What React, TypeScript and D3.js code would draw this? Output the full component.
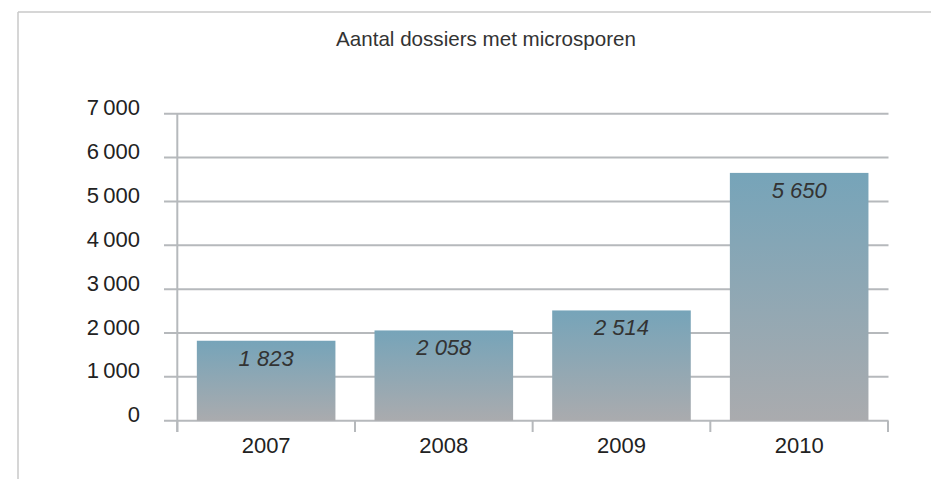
import React from "react";
import * as d3 from "d3";

const title = "Aantal dossiers met microsporen";
const years = ["2007", "2008", "2009", "2010"];
const values = [1823, 2058, 2514, 5650];
const yTicks = [0, 1000, 2000, 3000, 4000, 5000, 6000, 7000];

const W = 931;
const H = 479;

const tickFmt = d3.formatLocale({ decimal: ",", thousands: "\u2009", grouping: [3], currency: ["€", ""] }).format(",d");
const valFmt = d3.formatLocale({ decimal: ",", thousands: " ", grouping: [3], currency: ["€", ""] }).format(",d");

export default function App() {
  const x = d3.scaleBand<string>().domain(years).range([177.3, 888]).paddingInner(0.22).paddingOuter(0.11);
  const y = d3.scaleLinear().domain([0, 7000]).range([420.7, 113.7]);
  const step = x.step();
  const x0 = 177.3;
  const boundaries = d3.range(years.length + 1).map((i) => x0 + i * step);
  const font = "'Liberation Sans', Arial, sans-serif";
  const grid = "#b6b9bc";

  return (
    <svg width={W} height={H} style={{ position: "absolute", left: 0, top: 0, background: "#fff" }} fontFamily={font}>
      <defs>
        <linearGradient id="barGrad" x1="0" y1="0" x2="0" y2="1">
          <stop offset="0%" stopColor="#76a4b9" />
          <stop offset="100%" stopColor="#aaabae" />
        </linearGradient>
      </defs>
      <rect x={0} y={0} width={W} height={H} fill="#fff" />
      <line x1={18} y1={12} x2={W} y2={12} stroke="#c8c8c8" strokeWidth={1.5} />
      <line x1={18} y1={12} x2={18} y2={H} stroke="#c8c8c8" strokeWidth={1.5} />

      <text x={486} y={46} textAnchor="middle" fontSize={20.6} fill="#333">{title}</text>

      {yTicks.map((t) => (
        <line key={t} x1={164} x2={888.5} y1={y(t)} y2={y(t)} stroke={grid} strokeWidth={2} />
      ))}
      <line x1={x0} x2={x0} y1={y(7000)} y2={432} stroke={grid} strokeWidth={2} />
      {boundaries.map((b, i) => (
        <line key={i} x1={b} x2={b} y1={y(0)} y2={432} stroke={grid} strokeWidth={2} />
      ))}
      {yTicks.map((t) => (
        <text key={t} x={140} y={y(t) + 1.6} textAnchor="end" fontSize={22} fill="#222">{tickFmt(t)}</text>
      ))}

      {years.map((yr, i) => (
        <rect key={yr} x={x(yr)} y={y(values[i])} width={x.bandwidth()} height={y(0) - y(values[i])} fill="url(#barGrad)" />
      ))}
      {years.map((yr, i) => (
        <text key={yr} x={(x(yr) as number) + x.bandwidth() / 2} y={y(values[i]) + 25} textAnchor="middle" fontSize={22} fontStyle="italic" fill="#333">{valFmt(values[i])}</text>
      ))}
      {years.map((yr) => (
        <text key={yr} x={(x(yr) as number) + x.bandwidth() / 2} y={453} textAnchor="middle" fontSize={22} fill="#222">{yr}</text>
      ))}
    </svg>
  );
}
